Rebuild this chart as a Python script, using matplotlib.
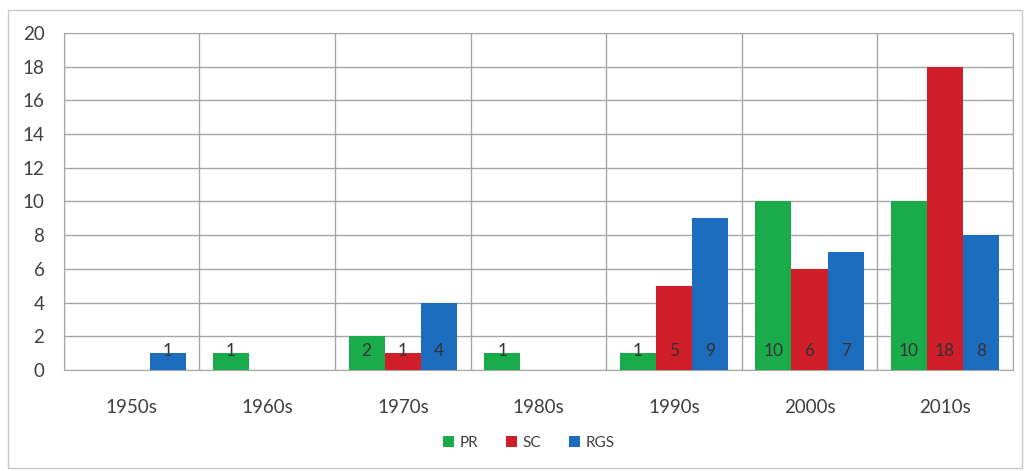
import matplotlib.pyplot as plt
import numpy as np
from matplotlib.patches import Rectangle

plt.rcParams["font.family"] = ["Lato", "DejaVu Sans"]

decades = ["1950s", "1960s", "1970s", "1980s", "1990s", "2000s", "2010s"]
series_names = ["PR", "SC", "RGS"]
pr = [0, 1, 2, 1, 1, 10, 10]
sc = [0, 0, 1, 0, 5, 6, 18]
rgs = [1, 0, 4, 0, 9, 7, 8]
colors = ["#1aab4b", "#d01f2a", "#1c6dbd"]

fig = plt.figure(figsize=(10.31, 4.71), dpi=100)
ax = fig.add_axes([0.062, 0.2144, 0.9205, 0.7156])

x = np.arange(len(decades))
width = 0.267
for i, (vals, col, name) in enumerate(zip([pr, sc, rgs], colors, series_names)):
    pos = x + (i - 1) * width
    ax.bar(pos, vals, width, color=col, label=name, zorder=3)
    for p, v in zip(pos, vals):
        if v > 0:
            ax.text(p, 1.15, str(v), ha="center", va="center", fontsize=12.5,
                    color="#333333", zorder=4)

ax.set_xlim(-0.5, len(decades) - 0.5)
ax.set_ylim(0, 20)
ax.set_yticks(range(0, 21, 2))
ax.set_xticks(x)
ax.set_xticklabels(decades)
ax.set_xticks(np.arange(-0.5, len(decades)), minor=True)
ax.grid(axis="y", color="#a6a6a6", lw=1.0, zorder=0)
ax.grid(axis="x", which="minor", color="#a6a6a6", lw=1.0, zorder=0)
ax.tick_params(axis="both", which="both", length=0, labelsize=13.5, colors="#404040")
ax.tick_params(axis="y", pad=14)
ax.tick_params(axis="x", pad=21)
for s in ax.spines.values():
    s.set_color("#a6a6a6")

ax.legend(loc="center", bbox_to_anchor=(0.49, -0.217), ncol=3, frameon=False,
          fontsize=11, handlelength=0.7, handleheight=0.7, handletextpad=0.4,
          columnspacing=1.8, labelcolor="#404040")

fig.patches.append(Rectangle((8 / 1031, 3 / 471), 1014 / 1031, 458 / 471,
                             transform=fig.transFigure, fill=False,
                             edgecolor="#c8c8c8", lw=1.0))

fig.savefig("out.png", dpi=100)
